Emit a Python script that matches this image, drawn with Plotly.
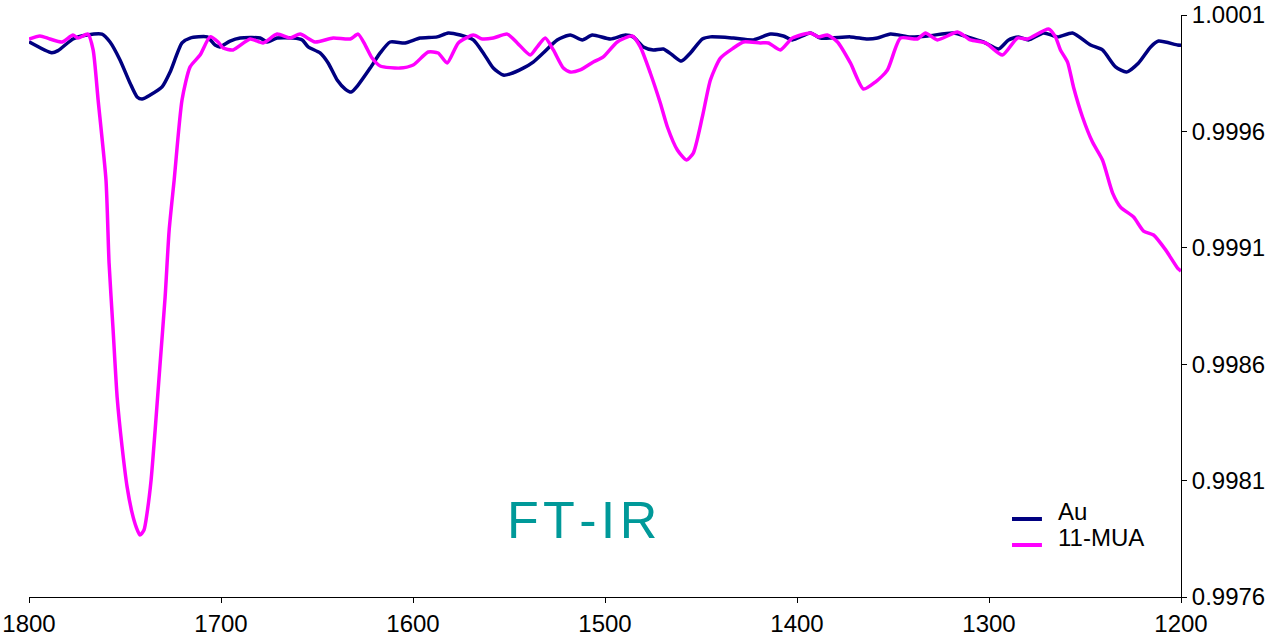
import plotly.graph_objects as go

# Au spectrum (wavenumber, transmittance)
au_wn = [1800, 1788.2, 1784.9, 1777.1, 1769.8, 1762.0, 1757.8, 1752.6, 1747.4, 1743.7,
         1741.1, 1736.9, 1730.7, 1726.5, 1720.3, 1716.1, 1707.2, 1703.1, 1700.5, 1695.3,
         1690.0, 1679.6, 1676.0, 1670.8, 1662.4, 1657.7, 1654.6, 1648.4, 1644.2, 1639.5,
         1635.3, 1632.2, 1628.6, 1622.3, 1617.1, 1611.9, 1604.1, 1596.3, 1587.4, 1581.7,
         1575.4, 1568.6, 1563.4, 1558.2, 1553.0, 1549.4, 1542.6, 1537.4, 1532.2, 1524.9,
         1518.1, 1511.8, 1506.6, 1497.2, 1489.4, 1485.3, 1480.0, 1474.8, 1469.6, 1464.9,
         1460.2, 1455.5, 1449.3, 1445.1, 1433.1, 1422.7, 1413.9, 1407.1, 1402.4, 1393.0,
         1387.8, 1372.2, 1363.3, 1358.1, 1351.3, 1340.9, 1332.0, 1318.5, 1311.2, 1302.9,
         1295.0, 1289.8, 1284.6, 1279.4, 1271.6, 1264.3, 1256.5, 1247.1, 1240.9, 1234.1,
         1228.4, 1222.1, 1215.8, 1211.7, 1201.8, 1200]
au_t = [0.999985, 0.999938, 0.999947, 0.999997, 1.000014, 1.000018, 0.999984, 0.999907, 0.999808, 0.999748,
        0.999739, 0.999756, 0.999791, 0.999855, 0.999980, 1.000001, 1.000006, 0.999971, 0.999963, 0.999988,
        1.000001, 1.000001, 0.999984, 1.000001, 1.000001, 0.999993, 0.999963, 0.999937, 0.999894, 0.999821,
        0.999782, 0.999769, 0.999799, 0.999872, 0.999937, 0.999984, 0.999980, 1.000001, 1.000006, 1.000023,
        1.000014, 0.999993, 0.999937, 0.999872, 0.999842, 0.999847, 0.999872, 0.999898, 0.999937, 0.999993,
        1.000014, 0.999993, 1.000014, 0.999997, 1.000014, 1.000006, 0.999963, 0.999950, 0.999954, 0.999928,
        0.999902, 0.999937, 0.999997, 1.000006, 1.000001, 0.999993, 1.000018, 1.000010, 0.999993, 1.000023,
        1.000001, 1.000006, 0.999997, 1.000001, 1.000018, 1.000006, 1.000010, 1.000023, 1.000006, 0.999984,
        0.999954, 0.999993, 1.000006, 0.999993, 1.000023, 1.000006, 1.000023, 0.999971, 0.999950, 0.999877,
        0.999855, 0.999894, 0.999963, 0.999988, 0.999971, 0.999970]

# 11-MUA spectrum (wavenumber, transmittance)
mua_wn = [1800, 1794.3, 1789.1, 1782.8, 1777.1, 1774.5, 1769.3, 1766.6, 1764.0, 1759.9,
          1758.3, 1756.2, 1754.1, 1751.5, 1748.9, 1746.3, 1744.2, 1742.2, 1740.1, 1738.5,
          1736.4, 1734.3, 1731.7, 1729.1, 1727.0, 1724.4, 1720.3, 1716.1, 1710.9, 1705.7,
          1701.5, 1698.9, 1693.7, 1684.8, 1678.1, 1670.8, 1664.0, 1658.8, 1651.0, 1641.6,
          1632.7, 1628.6, 1624.9, 1621.3, 1617.1, 1606.7, 1599.9, 1592.1, 1586.9, 1582.2,
          1576.4, 1568.6, 1563.9, 1558.2, 1550.9, 1545.7, 1538.9, 1535.3, 1531.1, 1526.9,
          1521.7, 1518.1, 1512.9, 1506.1, 1500.9, 1493.6, 1485.8, 1481.6, 1476.4, 1471.2,
          1467.5, 1462.3, 1457.6, 1454.0, 1449.3, 1445.1, 1439.9, 1433.1, 1427.9, 1419.1,
          1414.9, 1408.7, 1402.4, 1393.0, 1388.9, 1384.2, 1378.9, 1372.2, 1365.4, 1359.2,
          1352.9, 1346.1, 1337.3, 1333.1, 1326.9, 1316.4, 1309.7, 1301.8, 1293.0, 1285.2,
          1280.0, 1269.0, 1265.4, 1262.8, 1259.1, 1256.0, 1251.3, 1246.1, 1240.9, 1235.6,
          1231.5, 1224.7, 1219.5, 1214.3, 1208.0, 1201.8, 1200]
mua_t = [0.999997, 1.000010, 0.999997, 0.999984, 1.000014, 1.000001, 1.000018, 0.999950, 0.999735, 0.999391,
         0.999035, 0.998747, 0.998459, 0.998244, 0.998073, 0.997961, 0.997901, 0.997866, 0.997888, 0.997961,
         0.998103, 0.998317, 0.998605, 0.998889, 0.999176, 0.999391, 0.999735, 0.999877, 0.999928, 1.000006,
         0.999984, 0.999958, 0.999950, 0.999997, 0.999980, 1.000018, 1.000001, 1.000018, 0.999984, 1.000001,
         0.999997, 1.000018, 0.999971, 0.999915, 0.999881, 0.999872, 0.999885, 0.999941, 0.999937, 0.999894,
         0.999980, 1.000014, 0.999997, 1.000001, 1.000018, 0.999980, 0.999928, 0.999963, 1.000001, 0.999950,
         0.999872, 0.999855, 0.999864, 0.999898, 0.999920, 0.999984, 1.000010, 0.999963, 0.999851, 0.999722,
         0.999619, 0.999520, 0.999477, 0.999507, 0.999662, 0.999821, 0.999915, 0.999958, 0.999984, 0.999980,
         0.999980, 0.999950, 1.000001, 1.000023, 1.000006, 1.000014, 0.999984, 0.999894, 0.999782, 0.999812,
         0.999864, 1.000001, 0.999997, 1.000023, 0.999993, 1.000027, 0.999993, 0.999980, 0.999928, 1.000001,
         0.999997, 1.000040, 1.000006, 0.999950, 0.999898, 0.999791, 0.999662, 0.999554, 0.999477, 0.999335,
         0.999275, 0.999232, 0.999172, 0.999155, 0.999091, 0.999013, 0.999000]

series_names = ["Au", "11-MUA"]
series_colors = ["#000080", "#FF00FF"]

x_ticks = [1800, 1700, 1600, 1500, 1400, 1300, 1200]
y_ticks = [0.9976, 0.9981, 0.9986, 0.9991, 0.9996, 1.0001]
y_tick_labels = ["0.9976", "0.9981", "0.9986", "0.9991", "0.9996", "1.0001"]

fig = go.Figure()
for name, color, xs, ys in zip(series_names, series_colors, [au_wn, mua_wn], [au_t, mua_t]):
    fig.add_trace(go.Scatter(x=xs, y=ys, mode="lines", name=name, showlegend=False,
                             line=dict(color=color, width=3.5, shape="spline", smoothing=0.6)))

# legend drawn as keys + labels (paper coordinates)
legend_y = [0.134, 0.0893]
shapes = []
annotations = []
for name, color, ly in zip(series_names, series_colors, legend_y):
    shapes.append(dict(type="line", xref="paper", yref="paper", x0=0.8533, x1=0.8793,
                       y0=ly, y1=ly, line=dict(color=color, width=4)))
    annotations.append(dict(text=name, xref="paper", yref="paper", x=0.8915, y=ly + 0.013,
                            xanchor="left", yanchor="middle", showarrow=False,
                            font=dict(size=24, color="black")))
annotations.append(dict(text="F\u200aT\u200a-\u200aI\u200aR", x=0.48, y=0.079, xref="paper", yref="paper",
                        xanchor="center", yanchor="bottom", showarrow=False,
                        font=dict(size=52, color="#009999",
                                  family="Liberation Sans, Arial, sans-serif")))

fig.update_layout(
    width=1280, height=642,
    margin=dict(l=29, r=99, t=15, b=45, autoexpand=False),
    paper_bgcolor="white", plot_bgcolor="white",
    font=dict(family="Liberation Sans, Arial, sans-serif", color="black", size=24),
    showlegend=False,
    shapes=shapes,
    annotations=annotations,
)
fig.update_xaxes(range=[1800, 1200], tickvals=x_ticks, ticks="outside", ticklen=5,
                 tickcolor="black", showline=True, linecolor="black", linewidth=1,
                 showgrid=False, zeroline=False, tickfont=dict(size=24), automargin=False,
                 ticklabeloverflow="allow")
fig.update_yaxes(range=[0.9976, 1.0001], side="right", tickvals=y_ticks, ticktext=y_tick_labels,
                 ticks="outside", ticklen=5, tickcolor="black", showline=True, linecolor="black",
                 linewidth=1, showgrid=False, zeroline=False, tickfont=dict(size=24), automargin=False,
                 ticklabeloverflow="allow")

fig.write_html("out.html", config={"displayModeBar": False},
               post_script="document.body.style.margin='0';")
